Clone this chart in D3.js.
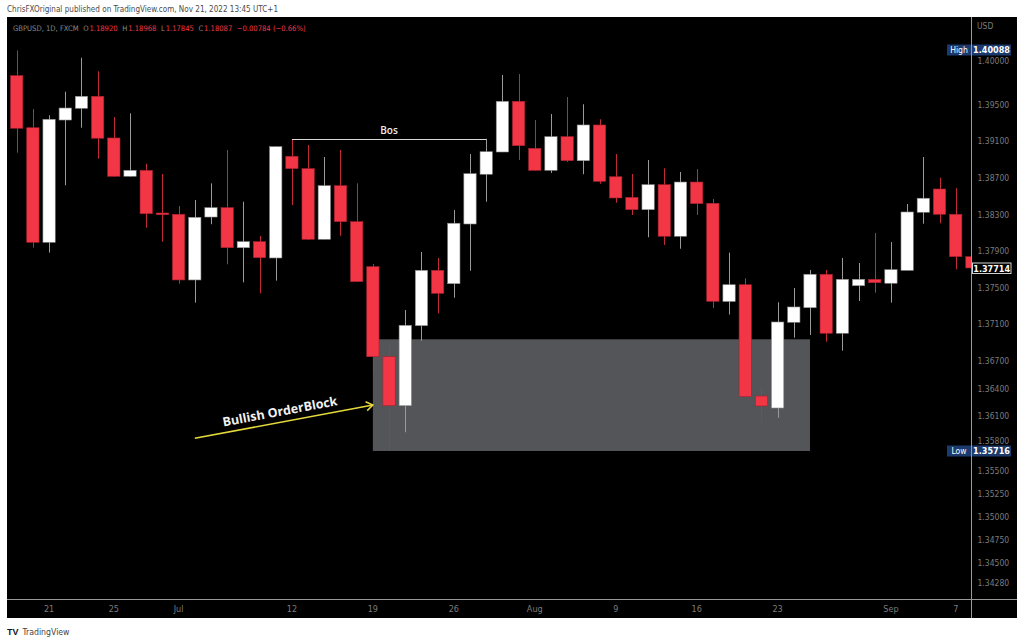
<!DOCTYPE html>
<html><head><meta charset="utf-8">
<script src="https://cdn.jsdelivr.net/npm/d3@7/dist/d3.min.js"></script>
<style>
body{margin:0;background:#fff;}
svg{display:block;}
.nar{font-family:"Liberation Sans Narrow","DejaVu Sans Condensed","Liberation Sans",sans-serif;}
</style></head>
<body>
<svg id="c" width="1024" height="642"></svg>
<script>
// ---------- data ----------
const dates = ["2021-06-17","2021-06-18","2021-06-21","2021-06-22","2021-06-23","2021-06-24","2021-06-25",
"2021-06-28","2021-06-29","2021-06-30","2021-07-01","2021-07-02","2021-07-05","2021-07-06","2021-07-07",
"2021-07-08","2021-07-09","2021-07-12","2021-07-13","2021-07-14","2021-07-15","2021-07-16","2021-07-19",
"2021-07-20","2021-07-21","2021-07-22","2021-07-23","2021-07-26","2021-07-27","2021-07-28","2021-07-29",
"2021-07-30","2021-08-02","2021-08-03","2021-08-04","2021-08-05","2021-08-06","2021-08-09","2021-08-10",
"2021-08-11","2021-08-12","2021-08-13","2021-08-16","2021-08-17","2021-08-18","2021-08-19","2021-08-20",
"2021-08-23","2021-08-24","2021-08-25","2021-08-26","2021-08-27","2021-08-30","2021-08-31","2021-09-01",
"2021-09-02","2021-09-03","2021-09-06","2021-09-07","2021-09-08"];
const opens = [1.39813,1.39245,1.37994,1.39329,1.39457,1.39588,1.39133,1.38715,1.38780,1.38314,1.38300,1.37583,
1.38270,1.38372,1.37935,1.38001,1.37823,1.38933,1.38798,1.38027,1.38612,1.38219,1.37728,1.36745,1.36210,1.37084,
1.37688,1.37542,1.38194,1.38737,1.38980,1.39533,1.39020,1.38780,1.39147,1.38885,1.39275,1.38710,1.38485,1.38350,
1.38623,1.38060,1.38652,1.38420,1.37348,1.37531,1.36316,1.36185,1.37121,1.37280,1.37645,1.37001,1.37520,1.37590,
1.37547,1.37688,1.38322,1.38576,1.38300,1.37837];
const highs = [1.40088,1.39449,1.39381,1.39638,1.40009,1.39861,1.39362,1.39402,1.38852,1.38740,1.38390,1.38456,
1.38638,1.39002,1.38437,1.38063,1.39040,1.39119,1.39056,1.38925,1.39002,1.38638,1.37757,1.36909,1.37255,1.37888,
1.37823,1.38347,1.38958,1.39125,1.39821,1.39831,1.39329,1.39395,1.39580,1.39501,1.39337,1.38958,1.38740,1.38893,
1.38802,1.38762,1.38794,1.38467,1.37881,1.37601,1.36418,1.37339,1.37495,1.37692,1.37692,1.37823,1.37768,1.38096,
1.37997,1.38412,1.38925,1.38699,1.38584,1.37860];
const lows = [1.38972,1.37935,1.37881,1.38616,1.39245,1.38907,1.38710,1.38710,1.38154,1.38001,1.37542,1.37335,
1.38191,1.37754,1.37557,1.37437,1.37575,1.38401,1.38019,1.38025,1.38066,1.37560,1.36564,1.35716,1.35920,1.36920,
1.37219,1.37389,1.37684,1.38437,1.38978,1.38893,1.38778,1.38751,1.38871,1.38737,1.38634,1.38426,1.38292,1.38049,
1.37965,1.37924,1.38292,1.37277,1.37206,1.36305,1.36025,1.36079,1.36953,1.36982,1.36909,1.36811,1.37353,1.37444,
1.37335,1.37685,1.38197,1.38202,1.37699,1.37690];
const closes = [1.39239,1.37994,1.39337,1.39460,1.39588,1.39130,1.38715,1.38780,1.38306,1.38295,1.37583,1.38267,
1.38372,1.37935,1.38001,1.37826,1.39038,1.38798,1.38027,1.38612,1.38219,1.37564,1.36745,1.36210,1.37088,1.37688,
1.37437,1.38202,1.38743,1.38983,1.39533,1.39049,1.38780,1.39147,1.38885,1.39275,1.38660,1.38478,1.38350,1.38623,
1.38060,1.38652,1.38416,1.37350,1.37531,1.36309,1.36207,1.37124,1.37288,1.37645,1.37001,1.37590,1.37590,1.37553,
1.37695,1.38325,1.38475,1.38300,1.37837,1.37714];

const timeTickDates = ["2021-06-21","2021-06-25","2021-07-01","2021-07-12","2021-07-19","2021-07-26",
"2021-08-02","2021-08-09","2021-08-16","2021-08-23","2021-09-01","2021-09-07"];
const timeTickLabels = ["21","25","Jul","12","19","26","Aug","9","16","23","Sep","7"];
const priceTicks = [1.40000,1.39500,1.39100,1.38700,1.38300,1.37900,1.37500,1.37100,1.36700,1.36400,
1.36100,1.35800,1.35500,1.35250,1.35000,1.34750,1.34500,1.34280];

const highValue = 1.40088, lowValue = 1.35716, lastValue = 1.37714;
const legendParts = [["GBPUSD, 1D, FXCM","label"],["O","label"],["1.18920","value"],["H","label"],["1.18968","value"],
  ["L","label"],["1.17845","value"],["C","label"],["1.18087","value"],["\u22120.00784 (\u22120.66%)","value"]];
// annotations (in data terms)
const bos = {from:"2021-07-12", to:"2021-07-28", price:1.39119, label:"Bos"};
const orderBlock = {from:"2021-07-19", to:"2021-08-25", top:1.36935, bottom:1.35716};
const arrow = {fromDate:"2021-07-02", fromPrice:1.35854, toDate:"2021-07-19", toPrice:1.36218, label:"Bullish OrderBlock"};

// ---------- layout ----------
const svg = d3.select("#c");
const P = {left:7, right:971.5, top:17, bottom:599.5, outerRight:1017, outerBottom:618};
const RED = "#f23645";

const candles = dates.map((d,i)=>({d, o:opens[i], h:highs[i], l:lows[i], c:closes[i]}));

const x = d3.scaleBand().domain(dates).range([8.6, 980.0]).padding(0);
const bw = x.bandwidth();
const cx = d => x(d) + bw/2;
const y = d3.scaleLinear().domain([1.340999, 1.404537]).range([599, 17]);

// background
svg.append("rect").attr("x",P.left).attr("y",P.top).attr("width",P.outerRight-P.left)
  .attr("height",P.outerBottom-P.top).attr("fill","#000");

svg.append("clipPath").attr("id","plotclip").append("rect")
  .attr("x",P.left).attr("y",P.top).attr("width",P.right-P.left).attr("height",P.bottom-P.top);

const plot = svg.append("g").attr("clip-path","url(#plotclip)");

// order block rectangle
plot.append("rect")
  .attr("x", cx(orderBlock.from)).attr("y", y(orderBlock.top))
  .attr("width", cx(orderBlock.to)-cx(orderBlock.from))
  .attr("height", y(orderBlock.bottom)-y(orderBlock.top))
  .attr("fill","#545559");

// candles
const bodyW = bw*0.76;
const cg = plot.append("g");
cg.selectAll("line.wick").data(candles).join("line")
  .attr("class","wick")
  .attr("x1", d=>Math.round(cx(d.d))+0.5).attr("x2", d=>Math.round(cx(d.d))+0.5)
  .attr("y1", d=>y(d.h)).attr("y2", d=>y(d.l))
  .attr("stroke", d=> d.c>=d.o ? "#9a9a9a" : "#c42a38").attr("stroke-width",1);
cg.selectAll("rect.body").data(candles).join("rect")
  .attr("class","body")
  .attr("x", d=>cx(d.d)-bodyW/2)
  .attr("y", d=>y(Math.max(d.o,d.c)))
  .attr("width", bodyW)
  .attr("height", d=>Math.max(1.5, Math.abs(y(d.o)-y(d.c))))
  .attr("fill", d=> d.c>=d.o ? "#ffffff" : RED)
  .attr("stroke", d=> d.c>=d.o ? "#8a8a8a" : "#a8222f").attr("stroke-width",0.6);

// BOS line
plot.append("line")
  .attr("x1", cx(bos.from)).attr("x2", cx(bos.to))
  .attr("y1", Math.round(y(bos.price))+0.5).attr("y2", Math.round(y(bos.price))+0.5)
  .attr("stroke","#d8d8d8").attr("stroke-width",1);
plot.append("text")
  .attr("x",(cx(bos.from)+cx(bos.to))/2).attr("y", y(bos.price)-5.5)
  .attr("text-anchor","middle").attr("font-family","'Open Sans',sans-serif")
  .attr("font-size","10px").attr("font-weight",600).attr("fill","#eeeeee").text(bos.label);

// arrow
const ax1 = cx(arrow.fromDate), ay1 = y(arrow.fromPrice), ax2 = cx(arrow.toDate), ay2 = y(arrow.toPrice);
const ang = Math.atan2(ay2-ay1, ax2-ax1);
plot.append("line").attr("x1",ax1).attr("y1",ay1).attr("x2",ax2).attr("y2",ay2)
  .attr("stroke","#e6d93c").attr("stroke-width",1.5);
const hl = 8, ha = 0.6;
plot.append("path")
  .attr("d", `M${ax2-hl*Math.cos(ang-ha)},${ay2-hl*Math.sin(ang-ha)} L${ax2},${ay2} L${ax2-hl*Math.cos(ang+ha)},${ay2-hl*Math.sin(ang+ha)}`)
  .attr("fill","none").attr("stroke","#e6d93c").attr("stroke-width",1.5);
const mx = (ax1+ax2)/2 - 2, my = (ay1+ay2)/2;
plot.append("text")
  .attr("transform", `translate(${mx},${my}) rotate(${ang*180/Math.PI})`)
  .attr("y",-6).attr("text-anchor","middle")
  .attr("font-family","'Open Sans',sans-serif").attr("font-size","12.5px").attr("font-weight",700)
  .attr("fill","#f2f2f2").text(arrow.label);

// separators
svg.append("line").attr("x1",P.left).attr("x2",P.outerRight).attr("y1",P.bottom).attr("y2",P.bottom)
  .attr("stroke","#9a9a9a").attr("stroke-width",1);
svg.append("line").attr("x1",P.right).attr("x2",P.right).attr("y1",P.top).attr("y2",P.outerBottom)
  .attr("stroke","#9a9a9a").attr("stroke-width",1);

// time axis
const labMap = new Map(timeTickDates.map((d,i)=>[d,timeTickLabels[i]]));
const xAxis = svg.append("g").attr("transform",`translate(0,${P.bottom})`)
  .call(d3.axisBottom(x).tickValues(timeTickDates).tickFormat(d=>labMap.get(d)).tickSize(0).tickPadding(6.5));
xAxis.select(".domain").remove();
xAxis.selectAll("text").attr("class","nar").attr("font-size","9px").attr("fill","#7c7c7c");

// price axis
const yAxis = svg.append("g").attr("transform",`translate(${P.right},0)`)
  .call(d3.axisRight(y).tickValues(priceTicks).tickFormat(d3.format(".5f")).tickSize(0).tickPadding(6));
yAxis.select(".domain").remove();
yAxis.selectAll("text").attr("class","nar").attr("font-size","8.5px").attr("fill","#7c7c7c");
yAxis.selectAll(".tick").filter(d=>Math.abs(y(d)-y(highValue))<12 || Math.abs(y(d)-y(lowValue))<12)
  .each(function(d){
    const ref = Math.abs(y(d)-y(highValue))<12 ? y(highValue) : y(lowValue);
    const shift = y(d) > ref ? 2.5 : -2.5;
    d3.select(this).select("text").attr("y", shift);
  });

svg.append("text").attr("class","nar").attr("x",977).attr("y",29).attr("font-size","8.5px")
  .attr("fill","#7c7c7c").text("USD");

// High / Low labels
function hlLabel(name, v){
  const yy = Math.round(y(v));
  const g = svg.append("g");
  g.append("rect").attr("x",947).attr("y",yy-5.5).attr("width",24).attr("height",11).attr("fill","#1c3a6e");
  g.append("rect").attr("x",972).attr("y",yy-5.5).attr("width",39).attr("height",11).attr("fill","#1c3a6e");
  g.append("text").attr("class","nar").attr("x",959).attr("y",yy+3.3).attr("text-anchor","middle")
    .attr("font-size","8.5px").attr("fill","#ffffff").text(name);
  g.append("text").attr("class","nar").attr("x",991.5).attr("y",yy+3.3).attr("text-anchor","middle")
    .attr("font-size","9px").attr("font-weight",700).attr("fill","#ffffff").text(d3.format(".5f")(v));
}
hlLabel("High", highValue);
hlLabel("Low", lowValue);

// last price label
{
  const yy = Math.round(y(lastValue));
  svg.append("rect").attr("x",972.5).attr("y",yy-5).attr("width",38.5).attr("height",10.5)
    .attr("fill","#000").attr("stroke","#d0d0d0").attr("stroke-width",1);
  svg.append("text").attr("class","nar").attr("x",991.7).attr("y",yy+3.5).attr("text-anchor","middle")
    .attr("font-size","9px").attr("font-weight",700).attr("fill","#ffffff").text(d3.format(".5f")(lastValue));
}

// header texts
svg.append("text").attr("class","nar").attr("x",7).attr("y",11.5).attr("font-size","9.5px")
  .attr("textLength",271).attr("lengthAdjust","spacingAndGlyphs")
  .attr("fill","#4a4a4a").text("ChrisFXOriginal published on TradingView.com, Nov 21, 2022 13:45 UTC+1");

// legend line: separate text pieces laid out left to right; font size chosen to fit the reference width
{
  const g = svg.append("g");
  const gaps = legendParts.map(([t,k],i)=> (k==="value" || i===0) ? 0.6 : 0.12); // in em
  const items = legendParts.map(([t,k])=> g.append("text").attr("class","nar").attr("y",31)
      .attr("font-size","9px").attr("fill", k==="label" ? "#8a8a8a" : RED).text(t));
  const widthAt = fs => d3.sum(items, (el,i)=> el.node().getComputedTextLength()*(fs/9) + (i<items.length-1 ? gaps[i]*fs : 0));
  const fs = 9*293/widthAt(9);
  items.forEach(el=>el.attr("font-size", fs+"px"));
  let cur = 13;
  items.forEach((el,i)=>{
    el.attr("x",cur);
    cur += el.node().getComputedTextLength() + gaps[i]*fs;
  });
}

// footer
svg.append("text").attr("x",7).attr("y",635).attr("font-family","'Liberation Sans',sans-serif")
  .attr("font-size","9px").attr("font-weight",900).attr("fill","#131722").text("TV");
svg.append("text").attr("class","nar").attr("x",22.5).attr("y",635).attr("font-size","9.5px")
  .attr("textLength",47).attr("lengthAdjust","spacingAndGlyphs")
  .attr("fill","#444").text("TradingView");
</script>
</body></html>
